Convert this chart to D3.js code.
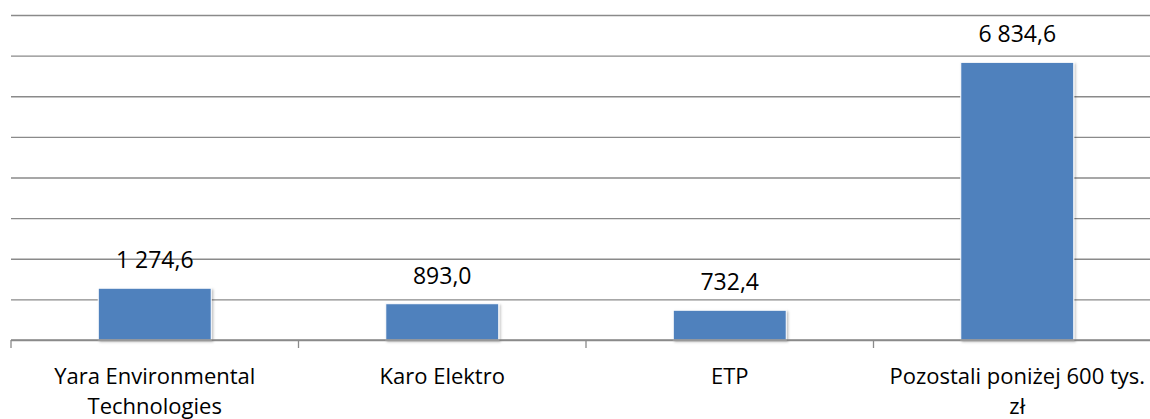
<!DOCTYPE html>
<html>
<head>
<meta charset="utf-8">
<script src="https://cdn.jsdelivr.net/npm/d3@7"></script>
<style>
  html, body { margin: 0; padding: 0; background: #fff; overflow: hidden; }
  text { font-family: "Open Sans", Lato, sans-serif; fill: #000; }
</style>
</head>
<body>
<div id="chart"></div>
<script>
// data (tys. zł)
var categories = ['Yara Environmental Technologies', 'Karo Elektro', 'ETP', 'Pozostali poniżej 600 tys. zł'];
var values = [1274.6, 893.0, 732.4, 6834.6];
var gridTicks = [0, 1000, 2000, 3000, 4000, 5000, 6000, 7000, 8000];

var width = 1150, height = 419;
var left = 11, right = 1161, baseY = 340, topY = 15;

var fmt = d3.formatLocale({decimal: ',', thousands: ' ', grouping: [3], currency: ['', '']}).format(',.1f');

var svg = d3.select('#chart')
    .append('svg')
    .attr('width', width)
    .attr('height', height);

var defs = svg.append('defs');
var shadow = defs.append('filter').attr('id', 'shadow')
    .attr('x', '-10%').attr('y', '-10%').attr('width', '130%').attr('height', '130%');
shadow.append('feDropShadow')
    .attr('dx', 1.5).attr('dy', 1.5).attr('stdDeviation', 1.2)
    .attr('flood-color', '#000').attr('flood-opacity', 0.25);

var x = d3.scaleBand()
    .domain(categories)
    .range([left, right])
    .paddingInner(0.607)
    .paddingOuter(0.3035);

var y = d3.scaleLinear()
    .domain([0, 8000])
    .range([baseY, topY]);

// gridlines
svg.append('g')
    .attr('class', 'grid')
    .attr('transform', 'translate(' + left + ',0)')
    .call(d3.axisLeft(y).tickValues(gridTicks).tickSize(-(width - left)).tickFormat(''))
    .call(function(g) {
        g.select('.domain').remove();
        g.selectAll('line').attr('stroke', '#8a8a8a').attr('stroke-width', 1.3);
    });

// bars
svg.selectAll('rect.bar')
    .data(values)
    .enter()
    .append('rect')
    .attr('class', 'bar')
    .attr('x', function(d, i) { return x(categories[i]); })
    .attr('y', function(d) { return y(d); })
    .attr('width', x.bandwidth())
    .attr('height', function(d) { return y(0) - y(d); })
    .attr('fill', '#4f81bd')
    .attr('stroke', '#fff')
    .attr('stroke-width', 1)
    .attr('filter', 'url(#shadow)');

// value labels
svg.selectAll('text.val')
    .data(values)
    .enter()
    .append('text')
    .attr('class', 'val')
    .attr('x', function(d, i) { return x(categories[i]) + x.bandwidth() / 2; })
    .attr('y', function(d) { return y(d) - 20; })
    .attr('text-anchor', 'middle')
    .attr('font-size', 23)
    .text(function(d) { return fmt(d); });

// x axis: labels centred, ticks on band boundaries
var xAxis = svg.append('g')
    .attr('transform', 'translate(0,' + baseY + ')')
    .call(d3.axisBottom(x).tickSize(0).tickPadding(0))
    .call(function(g) {
        g.select('.domain').remove();
        g.selectAll('text').attr('font-size', 22).attr('dy', null).attr('y', 44)
            .call(wrap, 272);
    });

xAxis.append('line')
    .attr('x1', left).attr('x2', width)
    .attr('y1', 0).attr('y2', 0)
    .attr('stroke', '#8a8a8a').attr('stroke-width', 1.3);

xAxis.selectAll('line.sep')
    .data(d3.range(categories.length))
    .enter()
    .append('line')
    .attr('class', 'sep')
    .attr('x1', function(i) { return left + i * x.step(); })
    .attr('x2', function(i) { return left + i * x.step(); })
    .attr('y1', 0).attr('y2', 8)
    .attr('stroke', '#8a8a8a').attr('stroke-width', 1.3);

function wrap(texts, w) {
    texts.each(function() {
        var t = d3.select(this);
        var words = t.text().split(/\s+/);
        var yy = t.attr('y');
        t.text(null);
        var line = [];
        var lineNo = 0;
        var tspan = t.append('tspan').attr('x', 0).attr('y', yy);
        words.forEach(function(word) {
            line.push(word);
            tspan.text(line.join(' '));
            if (tspan.node().getComputedTextLength() > w && line.length > 1) {
                line.pop();
                tspan.text(line.join(' '));
                line = [word];
                lineNo++;
                tspan = t.append('tspan').attr('x', 0).attr('y', +yy + lineNo * 30).text(word);
            }
        });
    });
}
</script>
</body>
</html>
